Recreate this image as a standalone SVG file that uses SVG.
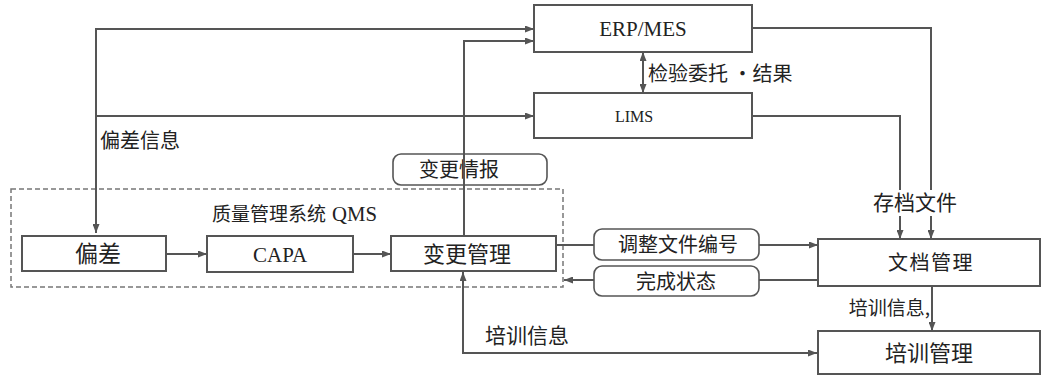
<svg xmlns="http://www.w3.org/2000/svg" width="1058" height="378" viewBox="0 0 1058 378">
<style>
.box{fill:#fff;stroke:#555;stroke-width:2}
.rbox{fill:#fff;stroke:#555;stroke-width:1.6}
.ln{fill:none;stroke:#555;stroke-width:2}
.cn{font-family:"Noto Sans CJK SC","Noto Sans",sans-serif;fill:#222}
.en{font-family:"Liberation Serif",serif;fill:#222}
</style>
<defs>
<marker id="ah" viewBox="0 0 10 10" refX="10" refY="5" markerWidth="9" markerHeight="7" markerUnits="userSpaceOnUse" orient="auto-start-reverse" preserveAspectRatio="none">
<path d="M0,0 L10,5 L0,10 z" fill="#555"/>
</marker>
</defs>
<rect width="1058" height="378" fill="#fff"/>
<g id="qms">
<rect x="11" y="189" width="552" height="98" fill="none" stroke="#777" stroke-width="1.5" stroke-dasharray="5,3"/>
<text class="cn" x="212" y="221" font-size="19">质量管理系统</text>
<text class="en" x="332" y="221" font-size="21" textLength="45" lengthAdjust="spacingAndGlyphs">QMS</text>
</g>
<g id="biangengqingbao"><rect class="rbox" x="393" y="154" width="154" height="31" rx="8"/><text class="cn" x="459" y="177" font-size="20" text-anchor="middle">变更情报</text></g>
<g id="connectors">
<path class="ln" d="M534,29 H96 V233" marker-start="url(#ah)" marker-end="url(#ah)"/>
<path class="ln" d="M96,116 H534" marker-end="url(#ah)"/>
<path class="ln" d="M464,235 V41 H534" marker-end="url(#ah)"/>
<path class="ln" d="M643,52 V93" marker-start="url(#ah)" marker-end="url(#ah)"/>
<path class="ln" d="M752,28 H931 V239" marker-end="url(#ah)"/>
<path class="ln" d="M752,116 H900 V239" marker-end="url(#ah)"/>
<path class="ln" d="M166,254 H207" marker-end="url(#ah)"/>
<path class="ln" d="M353,254 H391" marker-end="url(#ah)"/>
<path class="ln" d="M556,245 H818" marker-end="url(#ah)"/>
<path class="ln" d="M818,280 H564" marker-end="url(#ah)"/>
<path class="ln" d="M932,286 V331" marker-end="url(#ah)"/>
<path class="ln" d="M817,353 H463 V272" marker-start="url(#ah)" marker-end="url(#ah)"/>
</g>
<g id="erp"><rect class="box" x="534" y="5" width="218" height="47"/><text class="en" x="643" y="36" font-size="21" text-anchor="middle">ERP/MES</text></g>
<g id="lims"><rect class="box" x="534" y="93" width="218" height="45"/><text class="en" x="634" y="122" font-size="16" text-anchor="middle">LIMS</text></g>
<g id="label-jianyan"><text class="cn" x="648" y="81" font-size="20">检验委托 ·结果</text></g>
<g id="label-piancha"><text class="cn" x="100" y="148" font-size="20">偏差信息</text></g>
<g id="piancha"><rect class="box" x="22" y="236" width="144" height="35"/><text class="cn" x="98" y="262" font-size="23" text-anchor="middle">偏差</text></g>
<g id="capa"><rect class="box" x="207" y="236" width="146" height="36"/><text class="en" x="280" y="262" font-size="21" text-anchor="middle">CAPA</text></g>
<g id="biangengguanli"><rect class="box" x="391" y="236" width="165" height="35"/><text class="cn" x="467" y="262" font-size="22" text-anchor="middle">变更管理</text></g>
<g id="tiaozheng"><rect class="rbox" x="594" y="229" width="165" height="31" rx="8"/><text class="cn" x="678" y="252" font-size="20" text-anchor="middle">调整文件编号</text></g>
<g id="wancheng"><rect class="rbox" x="594" y="266" width="165" height="30" rx="8"/><text class="cn" x="676" y="289" font-size="20" text-anchor="middle">完成状态</text></g>
<g id="cundang"><rect x="868" y="190" width="94" height="26" fill="#fff"/><text class="cn" x="915" y="210" font-size="21" text-anchor="middle">存档文件</text></g>
<g id="wendang"><rect class="box" x="818" y="239" width="222" height="47"/><text class="cn" x="931" y="270" font-size="20" letter-spacing="1.5" text-anchor="middle">文档管理</text></g>
<g id="label-peixun1"><text class="cn" x="930" y="315" font-size="19" text-anchor="end">培训信息,</text></g>
<g id="label-peixun2"><text class="cn" x="485" y="343" font-size="21">培训信息</text></g>
<g id="peixun"><rect class="box" x="818" y="331" width="222" height="43"/><text class="cn" x="929" y="361" font-size="22" text-anchor="middle">培训管理</text></g>
</svg>
